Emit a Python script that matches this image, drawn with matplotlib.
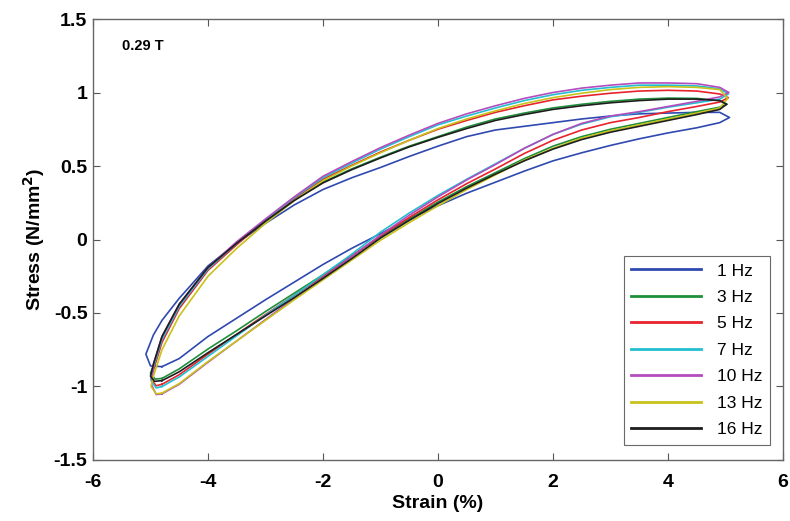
#!/usr/bin/env python3
# -*- coding: utf-8 -*-
"""
    Lazos de histéresis tensión-deformación a 0.29 T para varias frecuencias.
"""

import matplotlib
matplotlib.use("Agg")
import matplotlib.pyplot as plt

plt.rcParams['font.family'] = ['Liberation Sans', 'DejaVu Sans']
plt.rcParams['axes.unicode_minus'] = False

# Frecuencias y colores de cada serie
labels = ["1 Hz", "3 Hz", "5 Hz", "7 Hz", "10 Hz", "13 Hz", "16 Hz"]
colors = ["#2f49b0", "#1f8f3a", "#e8232d", "#22bfd0", "#b44cbe", "#c8c21a", "#1e1e1e"]

# Rejilla de deformación (%) de la rama inferior (carga) y superior (descarga)
strain_lower = [-4.8, -4.5, -4, -3.5, -3, -2.5, -2, -1.5, -1, -0.5, 0,
                0.5, 1, 1.5, 2, 2.5, 3, 3.5, 4, 4.5, 4.9]
strain_upper = [4.9, 4.5, 4, 3.5, 3, 2.5, 2, 1.5, 1, 0.5, 0,
                -0.5, -1, -1.5, -2, -2.5, -3, -3.5, -4, -4.5, -4.8, -4.95]

# Tensión (N/mm2) en la rama inferior
stress_lower = {
    "1 Hz":  [-0.865, -0.81, -0.66, -0.535, -0.41, -0.29, -0.17, -0.06, 0.04, 0.14, 0.23,
              0.315, 0.39, 0.465, 0.535, 0.59, 0.64, 0.685, 0.725, 0.76, 0.795],
    "3 Hz":  [-0.945, -0.88, -0.745, -0.62, -0.49, -0.365, -0.24, -0.11, 0.02, 0.14, 0.255,
              0.36, 0.455, 0.55, 0.635, 0.70, 0.75, 0.79, 0.83, 0.87, 0.90],
    "5 Hz":  [-0.985, -0.92, -0.78, -0.645, -0.51, -0.38, -0.25, -0.115, 0.025, 0.15, 0.27,
              0.38, 0.48, 0.585, 0.675, 0.745, 0.795, 0.83, 0.87, 0.905, 0.935],
    "7 Hz":  [-1.0, -0.935, -0.795, -0.655, -0.515, -0.38, -0.24, -0.10, 0.05, 0.18, 0.30,
              0.41, 0.515, 0.62, 0.715, 0.785, 0.835, 0.865, 0.90, 0.93, 0.955],
    "10 Hz": [-1.05, -0.985, -0.835, -0.69, -0.545, -0.40, -0.26, -0.115, 0.03, 0.165, 0.29,
              0.405, 0.51, 0.62, 0.715, 0.79, 0.84, 0.87, 0.905, 0.94, 0.97],
    "13 Hz": [-1.045, -0.98, -0.83, -0.69, -0.55, -0.41, -0.275, -0.14, -0.005, 0.115, 0.23,
              0.34, 0.44, 0.54, 0.62, 0.69, 0.74, 0.78, 0.82, 0.86, 0.895],
    "16 Hz": [-0.96, -0.90, -0.77, -0.645, -0.52, -0.395, -0.265, -0.13, 0.01, 0.13, 0.245,
              0.35, 0.445, 0.535, 0.615, 0.68, 0.73, 0.77, 0.81, 0.85, 0.885],
}

# Tensión (N/mm2) en la rama superior
stress_upper = {
    "1 Hz":  [0.865, 0.865, 0.86, 0.855, 0.84, 0.82, 0.795, 0.77, 0.745, 0.70, 0.635,
              0.565, 0.49, 0.42, 0.34, 0.235, 0.11, -0.025, -0.18, -0.40, -0.55, -0.65],
    "3 Hz":  [0.945, 0.96, 0.962, 0.955, 0.94, 0.92, 0.895, 0.86, 0.82, 0.765, 0.70,
              0.635, 0.56, 0.48, 0.39, 0.27, 0.125, -0.03, -0.20, -0.45, -0.67, -0.86],
    "5 Hz":  [0.99, 1.01, 1.015, 1.01, 0.995, 0.975, 0.95, 0.91, 0.865, 0.81, 0.75,
              0.675, 0.595, 0.505, 0.41, 0.28, 0.13, -0.035, -0.21, -0.47, -0.70, -0.89],
    "7 Hz":  [1.025, 1.045, 1.05, 1.05, 1.035, 1.015, 0.985, 0.945, 0.895, 0.84, 0.78,
              0.70, 0.615, 0.52, 0.42, 0.285, 0.135, -0.025, -0.20, -0.455, -0.68, -0.87],
    "10 Hz": [1.035, 1.06, 1.065, 1.065, 1.05, 1.03, 1.0, 0.96, 0.91, 0.855, 0.79,
              0.71, 0.625, 0.53, 0.43, 0.29, 0.14, -0.015, -0.19, -0.44, -0.66, -0.85],
    "13 Hz": [1.02, 1.035, 1.04, 1.035, 1.02, 0.995, 0.965, 0.925, 0.875, 0.82, 0.755,
              0.675, 0.59, 0.50, 0.40, 0.265, 0.11, -0.06, -0.25, -0.52, -0.75, -0.93],
    "16 Hz": [0.945, 0.955, 0.955, 0.945, 0.93, 0.91, 0.885, 0.85, 0.81, 0.755, 0.695,
              0.63, 0.555, 0.475, 0.385, 0.265, 0.125, -0.025, -0.19, -0.44, -0.66, -0.85],
}

# Puntas de los lazos (deformación, tensión): derecha y dos puntos a la izquierda
tip_right = {
    "1 Hz": (5.07, 0.83), "3 Hz": (5.03, 0.92), "5 Hz": (5.05, 0.965),
    "7 Hz": (5.05, 0.99), "10 Hz": (5.06, 1.0), "13 Hz": (5.04, 0.96),
    "16 Hz": (5.02, 0.92),
}
tip_left = {
    "1 Hz":  [(-5.08, -0.78), (-5.0, -0.86)],
    "3 Hz":  [(-5.0, -0.91), (-4.92, -0.95)],
    "5 Hz":  [(-4.99, -0.95), (-4.9, -0.995)],
    "7 Hz":  [(-4.99, -0.96), (-4.9, -1.01)],
    "10 Hz": [(-4.98, -0.99), (-4.9, -1.055)],
    "13 Hz": [(-4.99, -1.0), (-4.9, -1.05)],
    "16 Hz": [(-5.0, -0.93), (-4.93, -0.965)],
}


def lazo(key):
    """Devuelve los puntos del lazo cerrado de una serie"""
    xs = list(strain_lower) + [tip_right[key][0]] + list(strain_upper)
    ys = list(stress_lower[key]) + [tip_right[key][1]] + list(stress_upper[key])
    for px, py in tip_left[key]:
        xs.append(px)
        ys.append(py)
    xs.append(strain_lower[0])
    ys.append(stress_lower[key][0])
    return xs, ys


fig = plt.figure(figsize=(7.9, 5.21), dpi=100)
ax = fig.add_axes([0.1177, 0.1171, 0.8734, 0.8464])

for key, col in zip(labels, colors):
    xs, ys = lazo(key)
    ax.plot(xs, ys, color=col, lw=1.2, label=key)

ax.set_xlim(-6, 6)
ax.set_ylim(-1.5, 1.5)
ax.set_xticks([-6, -4, -2, 0, 2, 4, 6])
ax.set_yticks([-1.5, -1, -0.5, 0, 0.5, 1, 1.5])
ax.set_yticklabels(["-1.5", "-1", "-0.5", "0", "0.5", "1", "1.5"])

ax.tick_params(direction="in", length=5, width=0.8, top=True, right=True,
               labelsize=14, colors="#555555", labelcolor="black")
ax.tick_params(axis="x", pad=10)
ax.tick_params(axis="y", pad=4)
for lab in ax.get_xticklabels() + ax.get_yticklabels():
    lab.set_fontweight("bold")
for sp in ax.spines.values():
    sp.set_color("#666666")
    sp.set_linewidth(1.0)

ax.set_xlabel("Strain (%)", fontsize=14, fontweight="bold", labelpad=3)
ax.set_ylabel("Stress (N/mm$\\mathbf{^2}$)", fontsize=14, fontweight="bold", labelpad=5)

ax.text(0.042, 0.939, "0.29 T", transform=ax.transAxes, fontsize=10.5,
        fontweight="bold", va="center", ha="left")

leg = ax.legend(loc="lower right", bbox_to_anchor=(0.981, 0.034), fontsize=12.5,
                frameon=True, fancybox=False, handlelength=4.0, labelspacing=0.65,
                borderpad=0.45, handletextpad=0.9, borderaxespad=0)
leg.get_frame().set_edgecolor("#444444")
leg.get_frame().set_linewidth(0.8)
for ln in leg.get_lines():
    ln.set_linewidth(2.0)

fig.savefig("out.png", dpi=100)
